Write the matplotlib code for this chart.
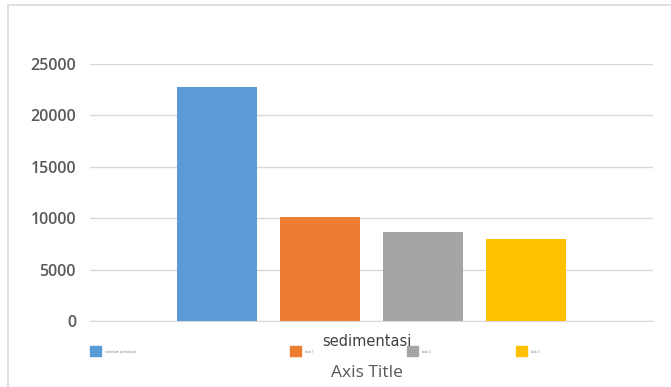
import matplotlib
matplotlib.use("Agg")
import matplotlib.pyplot as plt
from matplotlib.patches import Rectangle
from matplotlib.lines import Line2D

category = "sedimentasi"
series_names = ["sebelum perlakuan", "bak 1", "bak 2", "bak 3"]
values = [22750, 10100, 8700, 8000]
colors = ["#5b9bd5", "#ed7d31", "#a5a5a5", "#ffc000"]
yticks = [0, 5000, 10000, 15000, 20000, 25000]

W, H = 671, 387
fig = plt.figure(figsize=(W / 100, H / 100), dpi=100)
plt.rcParams['font.family'] = ['Open Sans', 'DejaVu Sans']

ax = fig.add_axes([90 / W, 1 - 321 / H, (653 - 90) / W, (321 - 64) / H])
offsets = [-1.5, -0.5, 0.5, 1.5]
for off, v, c in zip(offsets, values, colors):
    ax.bar(off, v, width=0.78, color=c, zorder=3)
ax.set_xlim(-2.73, 2.73)
ax.set_ylim(0, 25000)
ax.set_yticks(yticks)
ax.set_yticklabels([str(t) for t in yticks], color="#595959", fontsize=11.5,
                   fontweight="semibold")
ax.tick_params(axis='y', length=0, pad=10)
ax.set_xticks([])
ax.grid(axis='y', color="#d9d9d9", linewidth=1, zorder=0)
for s in ["top", "right", "left"]:
    ax.spines[s].set_visible(False)
ax.spines["bottom"].set_color("#d9d9d9")

# category label and axis title
fig.text(367 / W, 1 - 341 / H, category, ha="center", va="center", fontsize=10.5,
         color="#404040", family=['DejaVu Sans Condensed', 'Liberation Sans Narrow', 'DejaVu Sans'])
fig.text(367 / W, 1 - 373 / H, "Axis Title", ha="center", va="center", fontsize=12.5,
         color="#595959")

# legend
leg_x = [90, 290, 407, 516]
for x, name, c in zip(leg_x, series_names, colors):
    fig.patches.append(Rectangle((x / W, 1 - 356 / H), 11 / W, 10 / H, transform=fig.transFigure,
                                 color=c, figure=fig))
    fig.text((x + 15) / W, 1 - 352 / H, name, fontsize=2.5, color="#7f7f7f",
             ha="left", va="center")

# chart border (top and left only; continues off the image)
fig.lines.append(Line2D([8 / W, 8 / W, 1.0], [0.0, 1 - 5 / H, 1 - 5 / H], transform=fig.transFigure,
                        color="#d9d9d9", linewidth=1.2, figure=fig))

fig.savefig("out.png", dpi=100, facecolor="white")
